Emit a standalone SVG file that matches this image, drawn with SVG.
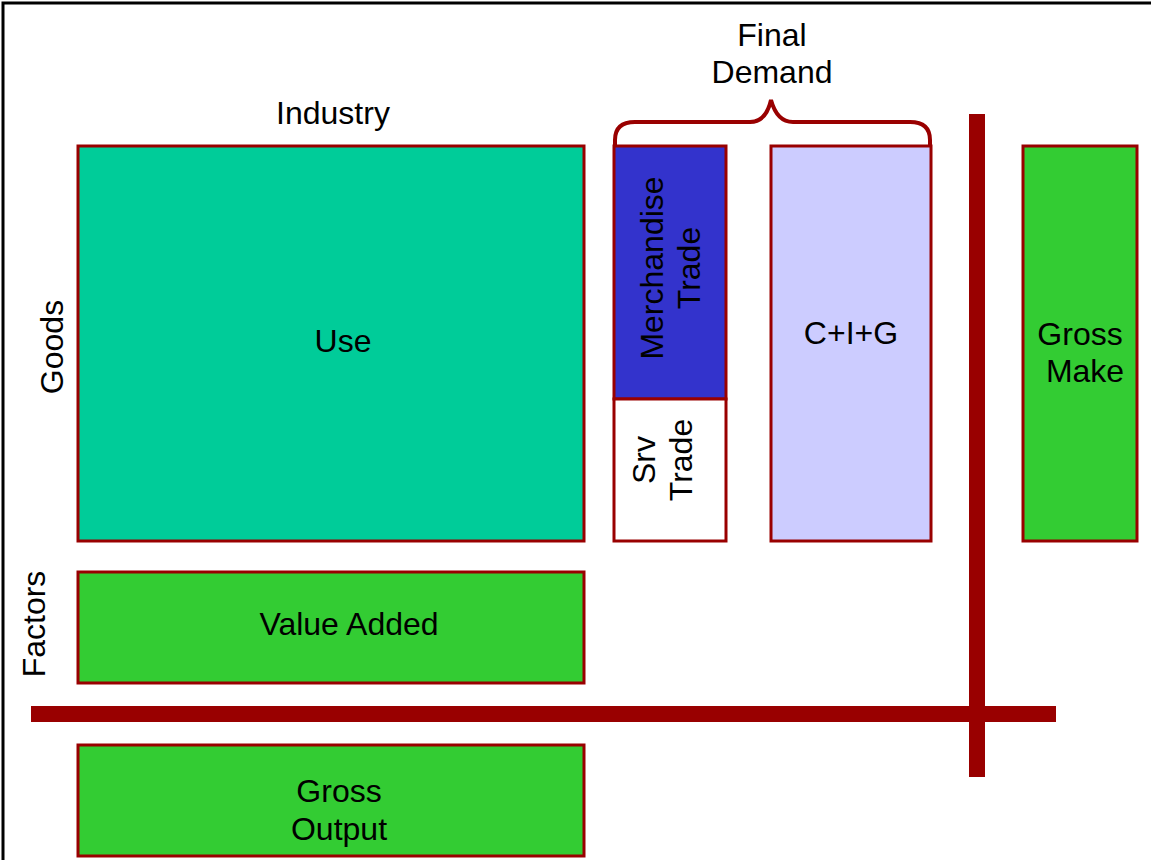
<svg xmlns="http://www.w3.org/2000/svg" width="1151" height="860" viewBox="0 0 1151 860">
<style>
.box{stroke:#990000;stroke-width:3}
text{font-family:"Liberation Sans",Arial,sans-serif;font-size:32px;fill:#000;text-anchor:middle}
.bar{fill:#990000}
</style>
<rect x="0" y="0" width="1151" height="860" fill="#fff"/>
<path d="M3 860 V3 H1151" fill="none" stroke="#000" stroke-width="3"/>
<g id="industry-label"><text x="333" y="124">Industry</text></g>
<g id="final-demand-label"><text x="772" y="46">Final</text><text x="772" y="83">Demand</text></g>
<g id="goods-label"><text transform="translate(63,347) rotate(-90)">Goods</text></g>
<g id="factors-label"><text transform="translate(45,624) rotate(-90)">Factors</text></g>
<g id="use"><rect class="box" x="78" y="146" width="506" height="395" fill="#00CC99"/><text x="343" y="352">Use</text></g>
<g id="merchandise-trade"><rect class="box" x="614" y="146" width="112" height="253" fill="#3333CC"/><text transform="translate(670,268) rotate(-90)"><tspan x="0" y="-7">Merchandise</tspan><tspan x="0" y="30">Trade</tspan></text></g>
<g id="srv-trade"><rect class="box" x="614" y="399" width="112" height="142" fill="#fff"/><text transform="translate(662,460) rotate(-90)"><tspan x="0" y="-7">Srv</tspan><tspan x="0" y="30">Trade</tspan></text></g>
<g id="cig"><rect class="box" x="771" y="146" width="160" height="395" fill="#CCCCFF"/><text x="851" y="344">C+I+G</text></g>
<g id="gross-make"><rect class="box" x="1023" y="146" width="114" height="395" fill="#33CC33"/><text x="1080" y="345">Gross</text><text x="1085" y="382">Make</text></g>
<g id="value-added"><rect class="box" x="78" y="572" width="506" height="111" fill="#33CC33"/><text x="349" y="635">Value Added</text></g>
<g id="gross-output"><rect class="box" x="78" y="745" width="506" height="111" fill="#33CC33"/><text x="339" y="802">Gross</text><text x="339" y="840">Output</text></g>
<g id="connectors">
<path d="M615 146 V140 Q615 122 635 122 H750 Q766 122 771 100 Q777 122 793 122 H910 Q930 122 930 140 V146" fill="none" stroke="#990000" stroke-width="4"/>
<rect class="bar" x="31" y="706" width="1025" height="16"/>
<rect class="bar" x="969" y="114" width="16" height="663"/>
</g>
</svg>
